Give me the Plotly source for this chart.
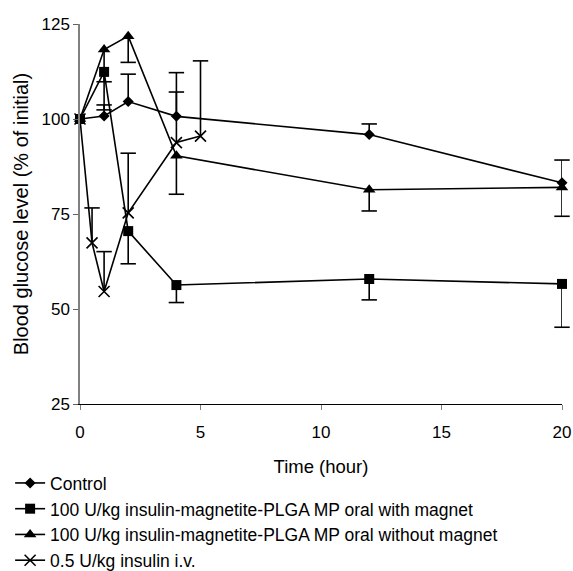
import plotly.graph_objects as go

time_control = [0, 1, 2, 4, 12, 20]
control = [100, 100.8, 104.6, 100.7, 95.9, 83.2]
control_err_up = [0, 2.9, 7.2, 11.5, 2.8, 6.0]

time_mag = [0, 1, 2, 4, 12, 20]
with_magnet = [100, 112.4, 70.5, 56.3, 57.9, 56.6]
with_magnet_err_down = [0, 10.0, 8.6, 4.6, 5.5, 11.4]

time_nomag = [0, 1, 2, 4, 12, 20]
without_magnet = [100, 118.3, 121.8, 90.3, 81.4, 82.0]
without_magnet_err_down = [0, 8.5, 6.9, 10.1, 5.6, 7.6]

time_iv = [0, 0.5, 1, 2, 4, 5]
insulin_iv = [100, 67.4, 54.6, 75.3, 93.8, 95.5]
insulin_iv_err_up = [0, 9.2, 10.5, 15.7, 13.3, 19.8]

x_ticks = [0, 5, 10, 15, 20]
y_ticks = [25, 50, 75, 100, 125]

names = [
    "Control",
    "100 U/kg insulin-magnetite-PLGA MP oral with magnet",
    "100 U/kg insulin-magnetite-PLGA MP oral without magnet",
    "0.5 U/kg insulin i.v.",
]

FONT = "Liberation Sans, Arial, sans-serif"
fig = go.Figure()

series = [
    (time_control, control, control_err_up, +1, "diamond", 8.5, names[0]),
    (time_mag, with_magnet, with_magnet_err_down, -1, "square", 10, names[1]),
    (time_nomag, without_magnet, without_magnet_err_down, -1, "triangle-up", 11, names[2]),
    (time_iv, insulin_iv, insulin_iv_err_up, +1, "x-thin", 11, names[3]),
]

# error bars (one-sided): stems and caps
for t, v, e, d, sym, sz, nm in series:
    sx, sy, cx, cy = [], [], [], []
    for ti, vi, ei in zip(t, v, e):
        if ei > 0:
            end = vi + d * ei
            sx += [ti, ti, None]
            sy += [vi, end, None]
            cx.append(ti)
            cy.append(end)
    fig.add_trace(go.Scatter(x=sx, y=sy, mode="lines", line=dict(color="black", width=1.6),
                             showlegend=False, hoverinfo="skip", cliponaxis=False))
    fig.add_trace(go.Scatter(x=cx, y=cy, mode="markers",
                             marker=dict(symbol="line-ew", size=11, color="black",
                                         line=dict(color="black", width=1.6)),
                             showlegend=False, hoverinfo="skip", cliponaxis=False))

for i, (t, v, e, d, sym, sz, nm) in enumerate(series):
    mk = dict(symbol=sym, size=sz, color="black")
    if sym == "x-thin":
        mk["line"] = dict(color="black", width=1.6)
    fig.add_trace(go.Scatter(x=t, y=v, mode="lines+markers", name=nm,
                             line=dict(color="black", width=1.6), marker=mk,
                             cliponaxis=False, legendgroup=str(i)))

fig.update_layout(
    width=573, height=571,
    margin=dict(l=80, r=11, t=24, b=167, autoexpand=False),
    paper_bgcolor="white", plot_bgcolor="white",
    font=dict(family=FONT, size=17, color="black"),
    showlegend=True,
    legend=dict(x=-0.145, y=-0.1607, xanchor="left", yanchor="top",
                orientation="v", traceorder="grouped", tracegroupgap=0,
                font=dict(family=FONT, size=17.5, color="black"),
                bgcolor="rgba(0,0,0,0)", itemwidth=30),
)
fig.update_xaxes(range=[0, 20], tickvals=x_ticks, showgrid=False, zeroline=False,
                 showline=True, linecolor="black", linewidth=1,
                 ticks="outside", ticklen=5, tickcolor="#808080",
                 ticklabelstandoff=8, tickfont=dict(size=17),
                 title=dict(text="Time (hour)", standoff=18, font=dict(size=18.5)))
fig.update_yaxes(range=[25, 125], tickvals=y_ticks, showgrid=False, zeroline=False,
                 showline=True, linecolor="#808080", linewidth=1.5,
                 ticks="outside", ticklen=5, tickcolor="#606060",
                 tickfont=dict(size=17),
                 title=dict(text="Blood glucose level (% of initial)", standoff=7, font=dict(size=20)))

fig.write_html("out.html", config={"displayModeBar": False},
               post_script="document.body.style.margin='0';")
